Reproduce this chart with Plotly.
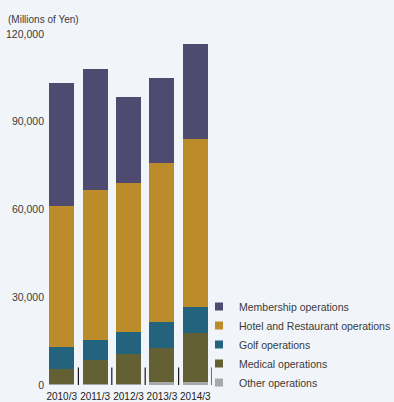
import plotly.graph_objects as go

categories = ["2010/3", "2011/3", "2012/3", "2013/3", "2014/3"]
other = [300, 300, 500, 900, 900]
medical = [5200, 8200, 10100, 11700, 16800]
golf = [7500, 6900, 7500, 8900, 8900]
hotel = [48100, 51200, 50800, 54300, 57400]
membership = [42300, 41600, 29700, 29000, 32700]

y_ticks = [0, 30000, 60000, 90000, 120000]

series = [
    ("Other operations", other, "#a7a8aa"),
    ("Medical operations", medical, "#636134"),
    ("Golf operations", golf, "#24637e"),
    ("Hotel and Restaurant operations", hotel, "#bc8b2a"),
    ("Membership operations", membership, "#4f4a6f"),
]

W, H = 394, 402
BG = "#f1f5f9"
FONT = "Liberation Sans"
idx = list(range(len(categories)))

fig = go.Figure()
for name, vals, col in series:
    fig.add_trace(go.Bar(x=idx, y=vals, name=name, marker_color=col,
                         marker_line_width=0, width=0.75, showlegend=False))

# legend entries (membership first)
for name, vals, col in reversed(series):
    fig.add_trace(go.Scatter(x=[None], y=[None], mode="markers", name=name,
                             marker=dict(symbol="square", size=8, color=col),
                             legendgroup=name))

# separators between categories
for i in idx:
    fig.add_shape(type="line", xref="x", yref="y domain", x0=i + 0.5, x1=i + 0.5,
                  y0=0, y1=0.05, line=dict(color="#1a1a1a", width=1.2))

fig.add_annotation(text="(Millions of Yen)", xref="paper", yref="paper",
                   x=0, y=1, xshift=-39.5, yshift=15, xanchor="left", yanchor="middle",
                   showarrow=False, font=dict(size=10, color="#3a3a3a", family=FONT))

fig.update_layout(
    width=W, height=H, barmode="stack",
    paper_bgcolor=BG, plot_bgcolor=BG,
    margin=dict(l=44.5, r=182, t=33.5, b=16.5, autoexpand=False),
    font=dict(family=FONT, size=11, color="#3a3a3a"),
    xaxis=dict(range=[-0.5, 4.5], tickvals=idx, ticktext=categories,
               showgrid=False, zeroline=False, showline=False, ticks="",
               tickangle=0, ticklabelstandoff=4, fixedrange=True,
               tickfont=dict(size=10, color="#222222", family=FONT)),
    yaxis=dict(range=[0, 120000], tickvals=y_ticks, tickformat=",",
               showgrid=False, zeroline=False, showline=False, ticks="",
               fixedrange=True,
               tickfont=dict(size=10.5, color="#3a3a3a", family=FONT)),
    legend=dict(xref="container", yref="container", x=199 / W, y=1 - 292 / H,
                xanchor="left", yanchor="top", traceorder="normal",
                bgcolor="rgba(0,0,0,0)", itemwidth=30, tracegroupgap=0,
                font=dict(size=10.5, family=FONT, color="#3a3a3a")),
    showlegend=True,
)

fig.write_html("out.html")
